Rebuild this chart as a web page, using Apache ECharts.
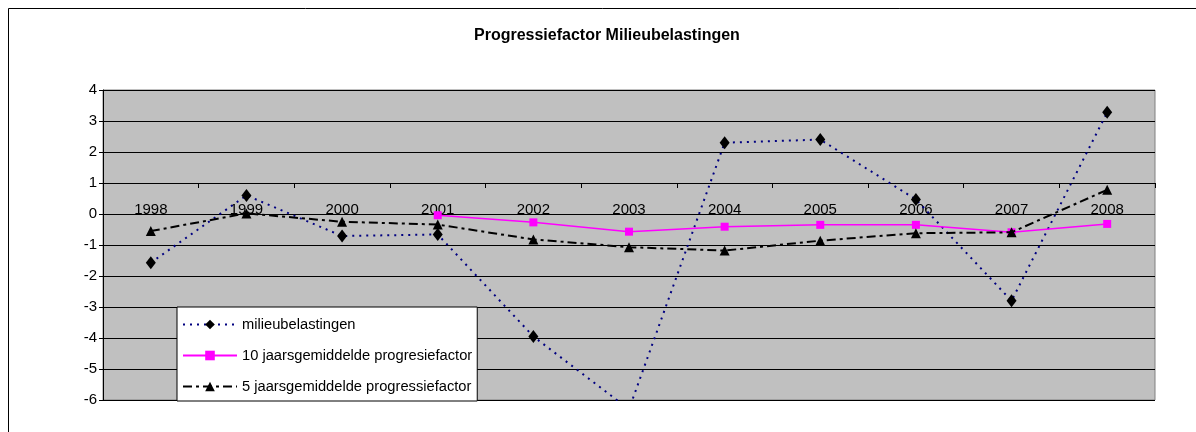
<!DOCTYPE html>
<html>
<head>
<meta charset="utf-8">
<script src="https://cdn.jsdelivr.net/npm/echarts@6/dist/echarts.min.js"></script>
<style>
  html, body { margin: 0; padding: 0; background: #ffffff; }
  #chart { width: 1196px; height: 432px; }
</style>
</head>
<body>
<div id="chart"></div>
<script>
// Years on the category axis
const years = ['1998', '1999', '2000', '2001', '2002', '2003', '2004', '2005', '2006', '2007', '2008'];

// Yearly progression factor of environmental taxes
const milieubelastingen = [-1.57, 0.6, -0.71, -0.66, -3.95, -6.3, 2.3, 2.4, 0.47, -2.8, 3.28];

// 10-year rolling average (starts in 2001)
const tienJaarsGemiddelde = [null, null, null, -0.04, -0.27, -0.57, -0.41, -0.35, -0.35, -0.59, -0.32];

// 5-year rolling average
const vijfJaarsGemiddelde = [-0.55, 0.02, -0.25, -0.34, -0.82, -1.07, -1.18, -0.86, -0.62, -0.59, 0.78];

// Value axis range and the level where the category axis crosses
const yMin = -6;
const yMax = 4;
const yStep = 1;
const categoryCrossAt = 1;

const gridTop = 90;
const gridBottom = 32;
const gridHeight = 432 - gridTop - gridBottom;
const axisOffset = -gridHeight * (categoryCrossAt - yMin) / (yMax - yMin);

const font = 'Liberation Sans, Arial, sans-serif';

const chart = echarts.init(document.getElementById('chart'), null, { renderer: 'canvas' });

chart.setOption({
  backgroundColor: '#ffffff',
  animation: false,
  textStyle: { fontFamily: font },
  graphic: [{
    type: 'rect',
    shape: { x: 8.5, y: 8.5, width: 1300, height: 600 },
    style: { fill: 'none', stroke: '#000000', lineWidth: 1 },
    silent: true,
    z: -10
  }],
  title: {
    text: 'Progressiefactor Milieubelastingen',
    left: 469,
    top: 23,
    textStyle: { fontFamily: font, fontSize: 16, fontWeight: 'bold', color: '#000000' }
  },
  grid: {
    left: 103,
    right: 41,
    top: gridTop,
    bottom: gridBottom,
    show: true,
    backgroundColor: '#c0c0c0',
    borderColor: '#808080',
    borderWidth: 1
  },
  legend: {
    orient: 'vertical',
    left: 177,
    top: 307,
    backgroundColor: '#ffffff',
    borderColor: '#000000',
    borderWidth: 1,
    borderRadius: 0,
    padding: [10, 5, 7, 5],
    itemWidth: 54,
    itemHeight: 12,
    itemGap: 16,
    textStyle: { fontFamily: font, fontSize: 14.7, color: '#000000' },
    data: ['milieubelastingen', '10 jaarsgemiddelde progresiefactor', '5 jaarsgemiddelde progressiefactor']
  },
  xAxis: {
    type: 'category',
    data: years,
    boundaryGap: true,
    position: 'bottom',
    offset: axisOffset,
    axisLine: { onZero: false, lineStyle: { color: '#000000', width: 1 } },
    axisTick: { show: true, length: 5, inside: false, lineStyle: { color: '#000000' } },
    axisLabel: { interval: 0, margin: 19, fontFamily: font, fontSize: 15, color: '#000000' },
    splitLine: { show: false },
    z: 0
  },
  yAxis: {
    type: 'value',
    min: yMin,
    max: yMax,
    interval: yStep,
    axisLine: { show: true, lineStyle: { color: '#000000', width: 1 } },
    axisTick: { show: true, length: 4, lineStyle: { color: '#000000' } },
    axisLabel: { margin: 6, fontFamily: font, fontSize: 15, color: '#000000' },
    splitLine: { show: true, lineStyle: { color: '#000000', width: 1 } }
  },
  series: [
    {
      name: 'milieubelastingen',
      type: 'line',
      data: milieubelastingen,
      symbol: 'diamond',
      symbolSize: [10, 13],
      itemStyle: { color: '#000000' },
      lineStyle: { color: '#000080', width: 2, type: [2, 5] },
      z: 3
    },
    {
      name: '10 jaarsgemiddelde progresiefactor',
      type: 'line',
      data: tienJaarsGemiddelde,
      symbol: 'rect',
      symbolSize: 8,
      itemStyle: { color: '#ff00ff' },
      lineStyle: { color: '#ff00ff', width: 1.5, type: 'solid' },
      z: 4
    },
    {
      name: '5 jaarsgemiddelde progressiefactor',
      type: 'line',
      data: vijfJaarsGemiddelde,
      symbol: 'triangle',
      symbolSize: 10,
      itemStyle: { color: '#000000' },
      lineStyle: { color: '#000000', width: 2, type: [9, 4, 3, 4] },
      z: 5
    }
  ]
});
</script>
</body>
</html>
